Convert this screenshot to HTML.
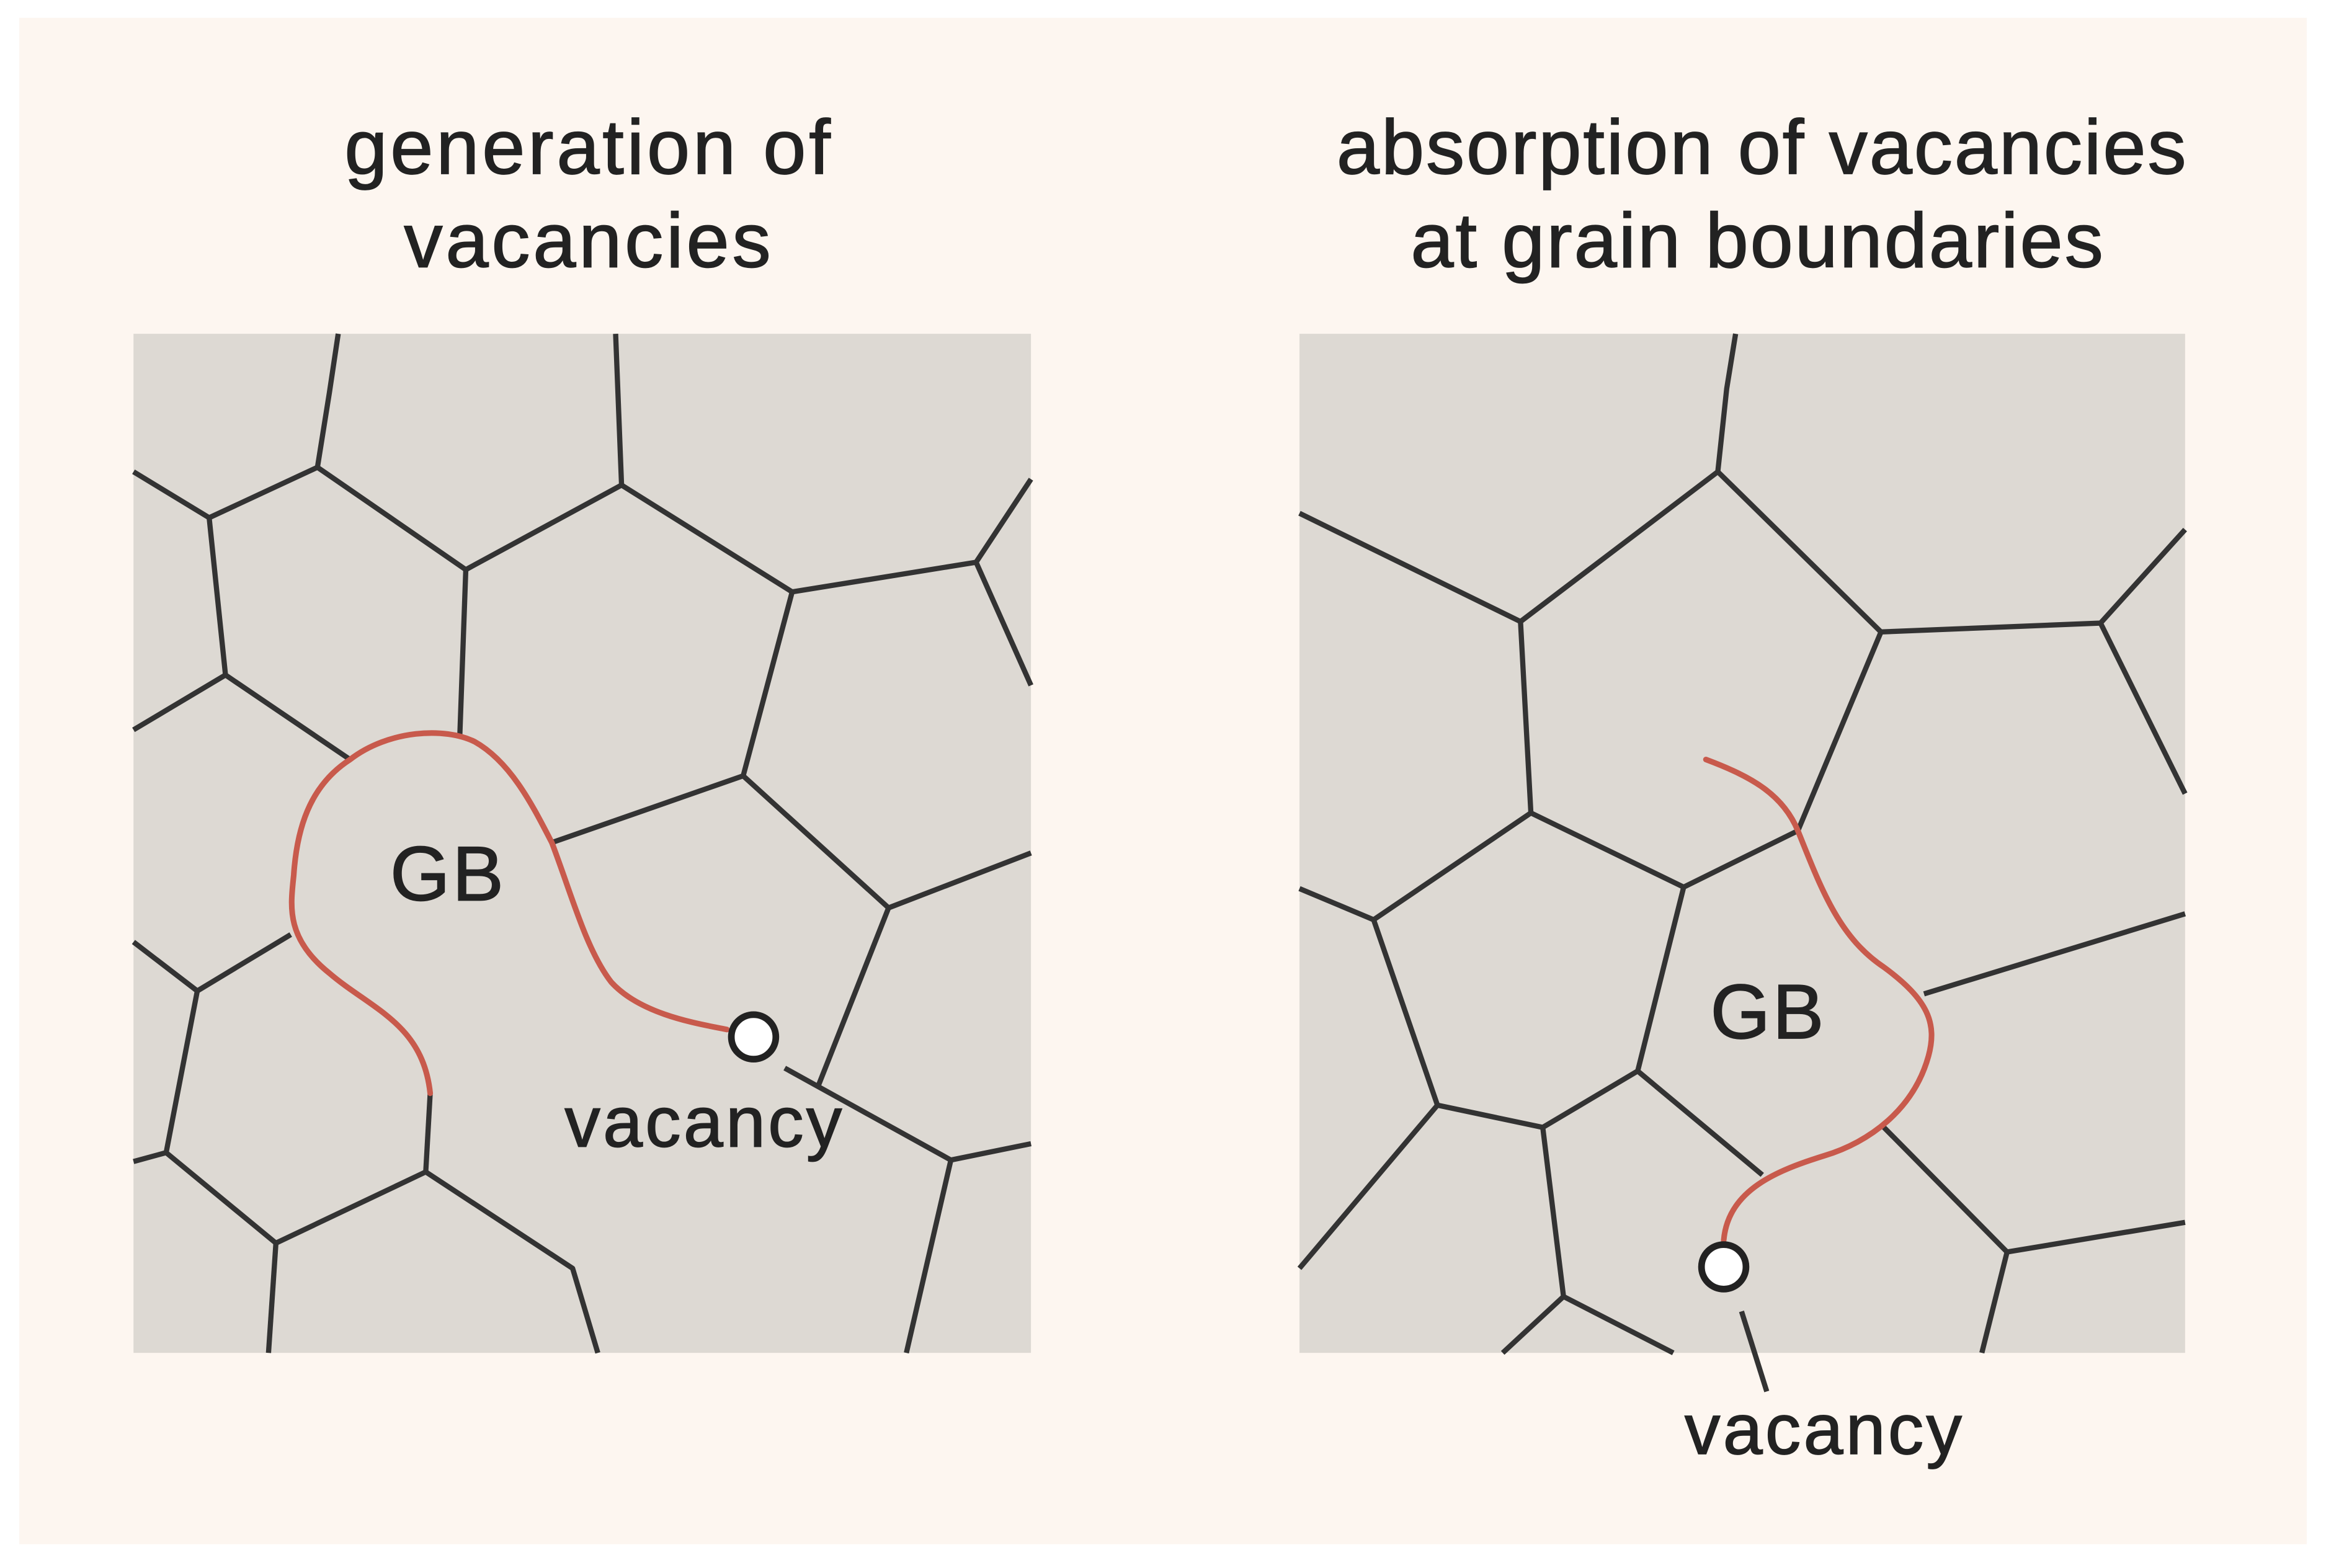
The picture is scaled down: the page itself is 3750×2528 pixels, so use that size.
<!DOCTYPE html>
<html><head><meta charset="utf-8"><style>
html,body{margin:0;padding:0;background:#fff;}
svg{display:block;}
text{font-family:"Liberation Sans",sans-serif;fill:#222;stroke:#222;stroke-width:0.7;}
</style></head><body>
<svg width="3750" height="2528" viewBox="0 0 1568 1057" xmlns="http://www.w3.org/2000/svg">
<rect x="0" y="0" width="1568" height="1057" fill="#fff"/>
<rect x="13" y="12" width="1542" height="1029" fill="#fdf6f0"/>
<text x="397" y="117" font-size="52" letter-spacing="2" text-anchor="middle">generation of</text>
<text x="397" y="180" font-size="52" letter-spacing="2" text-anchor="middle">vacancies</text>
<text x="1188" y="117" font-size="52" letter-spacing="1.2" text-anchor="middle">absorption of vacancies</text>
<text x="1185" y="180" font-size="52" letter-spacing="1.2" text-anchor="middle">at grain boundaries</text>
<rect x="90" y="225" width="605" height="687" fill="#ddd9d3"/>
<rect x="876" y="225" width="597" height="687" fill="#ddd9d3"/>
<g fill="none" stroke="#333" stroke-width="3.5" stroke-linejoin="round">
<polyline points="228,225 222,265 214,315"/>
<polyline points="90,318 141,349 214,315 314,384 419,327 415,225"/>
<polyline points="141,349 152,455 90,492"/>
<polyline points="152,455 236,512"/>
<polyline points="314,384 310,495"/>
<polyline points="419,327 534,399 658,379 695,323"/>
<polyline points="658,379 695,462"/>
<polyline points="534,399 501,523 372,568"/>
<polyline points="501,523 599,612 695,575"/>
<polyline points="599,612 552,731"/>
<polyline points="90,635 133,668 196,630"/>
<polyline points="133,668 112,777 90,783"/>
<polyline points="112,777 186,838 287,790 386,855 403,912"/>
<polyline points="186,838 181,912"/>
<polyline points="287,790 290,737"/>
<polyline points="529,720 641,782 695,771"/>
<polyline points="641,782 611,912"/>

<polyline points="1170,225 1164,262 1158,318"/>
<polyline points="876,346 1025,419 1158,318 1268,426 1416,420 1473,357"/>
<polyline points="1416,420 1473,535"/>
<polyline points="1025,419 1032,548 1135,598 1212,560"/>
<polyline points="1268,426 1212,560"/>
<polyline points="1032,548 926,620 876,599"/>
<polyline points="926,620 969,745 1040,760 1104,722 1135,598"/>
<polyline points="969,745 876,855"/>
<polyline points="1040,760 1054,874 1013,912"/>
<polyline points="1054,874 1128,912"/>
<polyline points="1104,722 1188,792"/>
<polyline points="1297,670 1473,616"/>
<polyline points="1270,760 1353,844 1473,824"/>
<polyline points="1353,844 1336,912"/>
<line x1="1174" y1="884" x2="1191" y2="938"/>
</g>
<g fill="none" stroke="#c85a4c" stroke-width="3.8" stroke-linecap="round">
<path d="M290,737 C285,690 250,680 222,656 C192,632 196,610 198,590 C200,560 208,530 236,512 C262,492 300,490 320,500 C345,514 360,545 372,568 C385,602 395,640 412,662 C432,684 470,690 490,694"/>
<path d="M1150,512 C1182,524 1202,536 1212,560 C1228,600 1240,632 1270,652 C1300,674 1306,690 1300,712 C1290,748 1260,770 1230,779 C1198,789 1165,802 1162,836"/>
</g>
<circle cx="508" cy="699" r="15" fill="#fff" stroke="#222" stroke-width="4.5"/>
<circle cx="1162" cy="854" r="15" fill="#fff" stroke="#222" stroke-width="4.5"/>
<text x="302" y="607" font-size="52" letter-spacing="1.5" text-anchor="middle">GB</text>
<text x="1192" y="700" font-size="52" letter-spacing="1.5" text-anchor="middle">GB</text>
<text x="475" y="773" font-size="48" letter-spacing="1.8" text-anchor="middle">vacancy</text>
<text x="1230" y="980" font-size="48" letter-spacing="1.8" text-anchor="middle">vacancy</text>
</svg>
</body></html>
